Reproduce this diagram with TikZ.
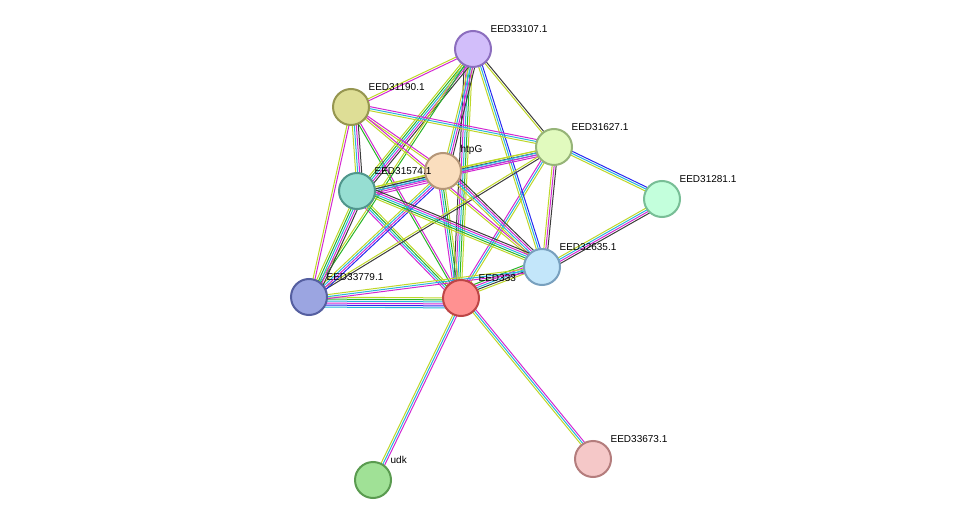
\documentclass[tikz,border=0pt]{standalone}
\usepackage{fontspec}
\setmainfont{Liberation Sans}
\usetikzlibrary{calc}
\definecolor{ey}{RGB}{190,215,40}
\definecolor{ek}{RGB}{60,60,60}
\definecolor{ec}{RGB}{40,180,220}
\definecolor{em}{RGB}{210,40,210}
\definecolor{eg}{RGB}{40,180,40}
\definecolor{eb}{RGB}{40,40,240}
\newcommand{\edge}[3]{%
  \foreach \c [count=\i] in {#3}{%
    \pgfmathsetmacro{\off}{(\i-1)*2}
    \draw[link, \c] ($(#1)!\off pt!90:(#2)$) -- ($(#2)!\off pt!-90:(#1)$);
  }}
\begin{document}
\begin{tikzpicture}[x=1pt, y=-1pt,
    prot/.style={circle, line width=2pt, minimum size=36pt, inner sep=0pt},
    lbl/.style={font=\fontsize{10}{12}\selectfont, anchor=south west, inner sep=0pt, xshift=4pt, yshift=3pt},
    link/.style={line width=1pt}]
  \useasboundingbox (0,0) rectangle (976,526);
  % node positions
  \coordinate (p107) at (473,49);
  \coordinate (p190) at (351,107);
  \coordinate (p627) at (554,147);
  \coordinate (phtp) at (443,171);
  \coordinate (p574) at (357,191);
  \coordinate (p281) at (662,199);
  \coordinate (p635) at (542,267);
  \coordinate (p779) at (309,297);
  \coordinate (p333) at (461,298);
  \coordinate (pudk) at (373,480);
  \coordinate (p673) at (593,459);
  % edges
  \edge{p333}{p107}{ey,eg,ec,em,ek}
  \edge{p333}{p190}{em,eg}
  \edge{p333}{p627}{ey,ec,em}
  \edge{p333}{phtp}{ey,eg,ec,em}
  \edge{p333}{p574}{ey,eg,ec,em}
  \edge{p333}{p635}{ey,ek,ec,em,eg}
  \edge{p333}{p779}{ey,eg,ec,em,eb,ec}
  \edge{p333}{pudk}{ey,ec,em}
  \edge{p333}{p673}{ey,ec,em}
  \edge{p107}{p190}{ey,em}
  \edge{p107}{p627}{ey,ek}
  \edge{p107}{phtp}{ey,ec,em,ek}
  \edge{p107}{p574}{ey,eg,ec,em,ek}
  \edge{p107}{p635}{ey,ec,eb}
  \edge{p107}{p779}{ey,eg}
  \edge{p190}{p627}{ey,ec,em}
  \edge{p190}{phtp}{ey,em}
  \edge{p190}{p574}{ey,ec,em,ek}
  \edge{p190}{p779}{ey,em}
  \edge{p190}{p635}{ey,em}
  \edge{p627}{phtp}{ey,ek,ec,em}
  \edge{p627}{p574}{ey,ec,em}
  \edge{p627}{p281}{ey,ec,eb}
  \edge{p627}{p635}{ey,em,ek}
  \edge{p627}{p779}{ey,ek}
  \edge{phtp}{p574}{ey,ek,ec,em,em}
  \edge{phtp}{p635}{ey,ec,em,ek}
  \edge{phtp}{p779}{ey,ec,em,eb}
  \edge{p574}{p635}{ey,eg,ec,em,ek}
  \edge{p574}{p779}{ey,eg,ec,em,ek}
  \edge{p281}{p635}{ey,ec,em,ek}
  \edge{p635}{p779}{ey,ec,em}
  % proteins
  \node[prot, fill={rgb,255:red,210;green,190;blue,250}, draw={rgb,255:red,140;green,110;blue,190}] (n107) at (p107) {};
  \node[prot, fill={rgb,255:red,222;green,222;blue,150}, draw={rgb,255:red,150;green,150;blue,80}] (n190) at (p190) {};
  \node[prot, fill={rgb,255:red,225;green,250;blue,190}, draw={rgb,255:red,150;green,180;blue,120}] (n627) at (p627) {};
  \node[prot, fill={rgb,255:red,250;green,222;blue,190}, draw={rgb,255:red,180;green,150;blue,120}] (nhtp) at (phtp) {};
  \node[prot, fill={rgb,255:red,150;green,222;blue,210}, draw={rgb,255:red,80;green,150;blue,140}] (n574) at (p574) {};
  \node[prot, fill={rgb,255:red,195;green,255;blue,220}, draw={rgb,255:red,120;green,190;blue,150}] (n281) at (p281) {};
  \node[prot, fill={rgb,255:red,255;green,145;blue,145}, draw={rgb,255:red,190;green,70;blue,70}] (n333) at (p333) {};
  \node[prot, fill={rgb,255:red,195;green,230;blue,250}, draw={rgb,255:red,120;green,160;blue,190}] (n635) at (p635) {};
  \node[prot, fill={rgb,255:red,155;green,165;blue,225}, draw={rgb,255:red,85;green,95;blue,160}] (n779) at (p779) {};
  \node[prot, fill={rgb,255:red,160;green,225;blue,150}, draw={rgb,255:red,90;green,155;blue,80}] (nudk) at (pudk) {};
  \node[prot, fill={rgb,255:red,245;green,200;blue,200}, draw={rgb,255:red,180;green,125;blue,125}] (n673) at (p673) {};
  % labels
  \node[lbl] at (n107.north east) {EED33107.1};
  \node[lbl] at (n190.north east) {EED31190.1};
  \node[lbl] at (n627.north east) {EED31627.1};
  \node[lbl] at (nhtp.north east) {htpG};
  \node[lbl] at (n574.north east) {EED31574.1};
  \node[lbl] at (n281.north east) {EED31281.1};
  \node[lbl] at (n635.north east) {EED32635.1};
  \node[lbl] at (n779.north east) {EED33779.1};
  \node[lbl] at (n333.north east) {EED333};
  \node[lbl] at (nudk.north east) {udk};
  \node[lbl] at (n673.north east) {EED33673.1};
\end{tikzpicture}
\end{document}
